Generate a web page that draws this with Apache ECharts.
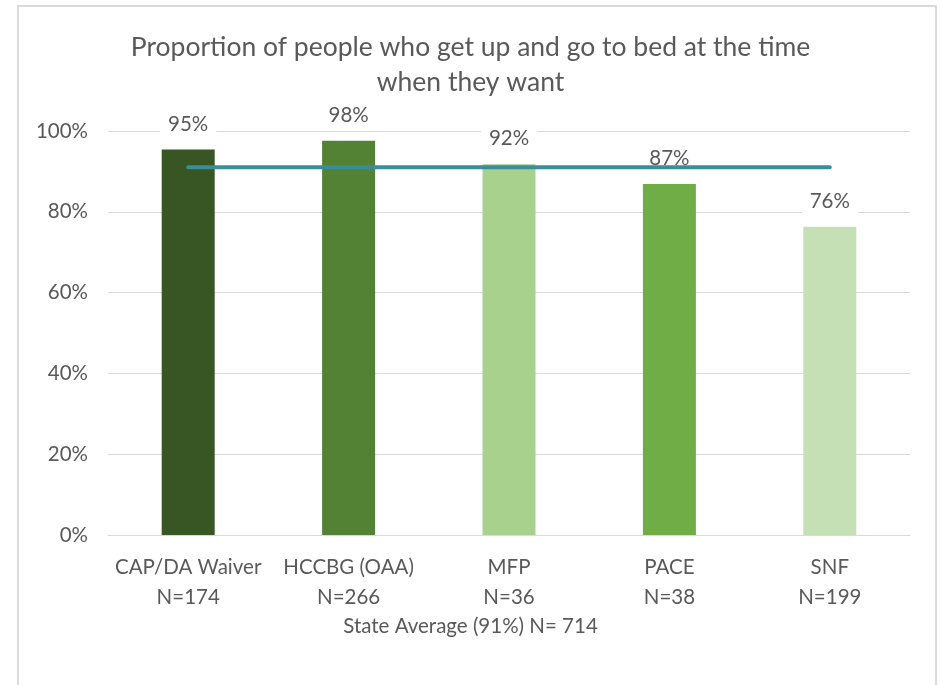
<!DOCTYPE html>
<html>
<head>
<meta charset="utf-8">
<script src="https://cdn.jsdelivr.net/npm/echarts@6/dist/echarts.min.js"></script>
<style>
  html, body { margin: 0; padding: 0; background: #fff; }
  #wrap { position: relative; width: 941px; height: 685px; overflow: hidden; }
  #chart { width: 941px; height: 685px; }
  #frame {
    position: absolute; left: 17px; top: 5px; width: 916px; height: 700px;
    border: 2px solid #dadada; pointer-events: none;
  }
</style>
</head>
<body>
<div id="wrap">
  <div id="chart"></div>
  <div id="frame"></div>
</div>
<script>
// data
const categories = ["CAP/DA Waiver", "HCCBG (OAA)", "MFP", "PACE", "SNF"];
const sampleSizes = [174, 266, 36, 38, 199];
const proportions = [95.4, 97.6, 91.8, 86.9, 76.3];
const stateAverage = [91, 91, 91, 91, 91];
const barColors = ["#375623", "#548235", "#A9D18E", "#70AD47", "#C5E0B4"];
const yTicks = [0, 20, 40, 60, 80, 100];

const font = "Lato, 'Open Sans', sans-serif";
const grey = "#595959";

const chart = echarts.init(document.getElementById("chart"));

const option = {
  animation: false,
  textStyle: { fontFamily: font },
  title: [
    {
      text: "Proportion of people who get up and go to bed at the time\nwhen they want",
      left: "center",
      top: 30,
      padding: [0, 0, 0, 18],
      textStyle: {
        fontFamily: font,
        fontSize: 26.5,
        fontWeight: "normal",
        color: grey,
        lineHeight: 35,
      },
    },
    {
      text: "State Average (91%) N= 714",
      left: "center",
      top: 616,
      padding: [0, 0, 0, 6],
      textStyle: {
        fontFamily: font,
        fontSize: 20.5,
        fontWeight: "normal",
        color: grey,
      },
    },
  ],
  grid: {
    left: 108,
    right: 31,
    top: 131,
    bottom: 150,
  },
  xAxis: {
    type: "category",
    data: categories,
    axisTick: { show: false },
    axisLine: { lineStyle: { color: "#d9d9d9", width: 1 } },
    axisLabel: {
      color: grey,
      fontSize: 20.5,
      lineHeight: 30,
      margin: 17,
      interval: 0,
      formatter: function (value, idx) {
        return value + "\nN=" + sampleSizes[idx];
      },
    },
  },
  yAxis: {
    type: "value",
    min: yTicks[0],
    max: yTicks[yTicks.length - 1],
    interval: 20,
    axisLine: { show: false },
    axisTick: { show: false },
    axisLabel: {
      color: grey,
      fontSize: 20.5,
      margin: 20,
      formatter: "{value}%",
    },
    splitLine: { lineStyle: { color: "#d9d9d9", width: 1 } },
  },
  series: [
    {
      name: "Proportion",
      type: "bar",
      barWidth: 53,
      z: 2,
      data: proportions.map(function (v, i) {
        return { value: v, itemStyle: { color: barColors[i] } };
      }),
      label: {
        show: true,
        position: "top",
        distance: 11,
        color: grey,
        fontSize: 20.5,
        backgroundColor: "#fff",
        padding: [4, 8],
        formatter: function (p) {
          return Math.round(p.value) + "%";
        },
      },
    },
    {
      name: "State Average",
      type: "line",
      z: 5,
      data: stateAverage,
      symbol: "none",
      lineStyle: { color: "#3A8D9A", width: 4, cap: "round" },
    },
  ],
};

chart.setOption(option);
</script>
</body>
</html>
